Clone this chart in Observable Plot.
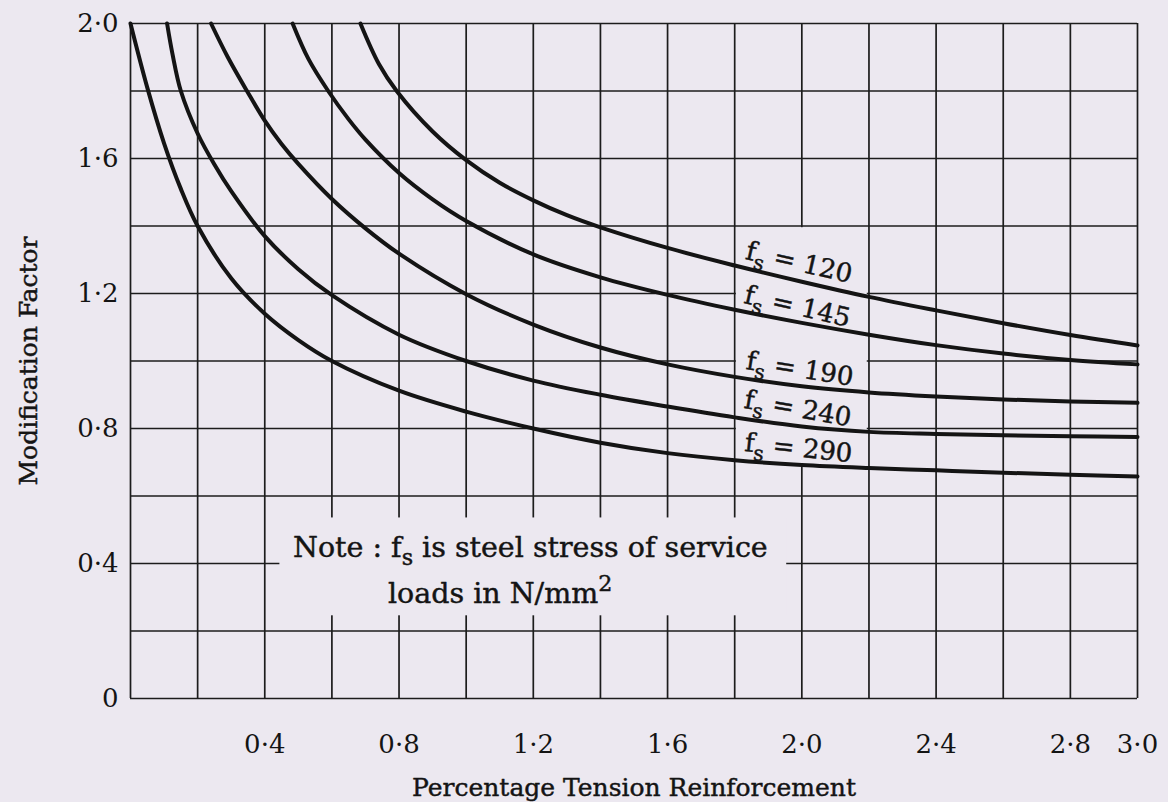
<!DOCTYPE html>
<html>
<head>
<meta charset="utf-8">
<script src="https://cdn.jsdelivr.net/npm/d3@7"></script>
<script src="https://cdn.jsdelivr.net/npm/@observablehq/plot@0.6"></script>
<style>
  html, body { margin: 0; padding: 0; background: #ece8f0; }
  #chart { width: 1168px; height: 802px; }
  svg { display: block; }
</style>
</head>
<body>
<div id="chart"></div>
<script>
// ---------- data ----------
const xTicks = [0.4, 0.8, 1.2, 1.6, 2.0, 2.4, 2.8, 3.0];
const yTicks = [0, 0.4, 0.8, 1.2, 1.6, 2.0];
const xGrid = [0, 0.2, 0.4, 0.6, 0.8, 1.0, 1.2, 1.4, 1.6, 1.8, 2.0, 2.2, 2.4, 2.6, 2.8, 3.0];
const yGrid = [0, 0.2, 0.4, 0.6, 0.8, 1.0, 1.2, 1.4, 1.6, 1.8, 2.0];

const fsValues = [120, 145, 190, 240, 290];

const pt120 = [0.685, 0.74, 0.793, 0.9, 1.0, 1.1, 1.2, 1.3, 1.4, 1.6, 1.8, 2.0, 2.2, 2.4, 2.6, 2.8, 3.0];
const mf120 = [2.0, 1.88, 1.8, 1.68, 1.595, 1.528, 1.476, 1.432, 1.396, 1.335, 1.283, 1.235, 1.19, 1.15, 1.112, 1.077, 1.046];

const pt145 = [0.483, 0.53, 0.589, 0.65, 0.7, 0.8, 0.9, 1.0, 1.2, 1.4, 1.6, 1.8, 2.0, 2.2, 2.4, 2.6, 2.8, 3.0];
const mf145 = [2.0, 1.895, 1.8, 1.716, 1.656, 1.557, 1.479, 1.415, 1.316, 1.248, 1.196, 1.152, 1.113, 1.078, 1.047, 1.022, 1.003, 0.99];

const pt190 = [0.24, 0.29, 0.347, 0.4, 0.45, 0.5, 0.6, 0.7, 0.8, 1.0, 1.2, 1.4, 1.6, 1.8, 2.0, 2.2, 2.4, 2.6, 2.8, 3.0];
const mf190 = [2.0, 1.9, 1.8, 1.712, 1.643, 1.584, 1.48, 1.393, 1.318, 1.198, 1.108, 1.04, 0.99, 0.953, 0.925, 0.907, 0.895, 0.886, 0.88, 0.876];

const pt240 = [0.109, 0.125, 0.15, 0.2, 0.25, 0.3, 0.4, 0.5, 0.6, 0.8, 1.0, 1.2, 1.4, 1.6, 1.8, 2.0, 2.2, 2.4, 2.6, 2.8, 3.0];
const mf240 = [2.0, 1.91, 1.8, 1.674, 1.582, 1.503, 1.37, 1.272, 1.195, 1.078, 1.0, 0.942, 0.9, 0.865, 0.833, 0.806, 0.79, 0.784, 0.78, 0.777, 0.775];

const pt290 = [0, 0.05, 0.1, 0.15, 0.2, 0.3, 0.4, 0.5, 0.6, 0.8, 1.0, 1.2, 1.4, 1.6, 1.8, 2.0, 2.2, 2.4, 2.6, 2.8, 3.0];
const mf290 = [2.0, 1.81, 1.645, 1.51, 1.4, 1.245, 1.14, 1.062, 1.0, 0.912, 0.85, 0.8, 0.758, 0.727, 0.706, 0.692, 0.683, 0.676, 0.669, 0.663, 0.658];

const curveLabelText = ["f_s = 120", "f_s = 145", "f_s = 190", "f_s = 240", "f_s = 290"];
const noteText = ["Note : f_s is steel stress of service", "loads in N/mm^2"];
const xTitle = "Percentage Tension Reinforcement";
const yTitle = "Modification Factor";

// ---------- annotation placement ----------
const labelPos = [
  {x: 1.835, y: 1.327, angle: 13},
  {x: 1.83,  y: 1.197, angle: 13},
  {x: 1.835, y: 1.001, angle: 9},
  {x: 1.83,  y: 0.886, angle: 10},
  {x: 1.83,  y: 0.758, angle: 6}
];
const notePos = [{x: 0.484, y: 0.447}, {x: 0.767, y: 0.311}];
const gapBoxes = [
  {x1: 1.8, x2: 2.2, y1: 0.685, y2: 1.4},
  {x1: 0.44, x2: 1.96, y1: 0.24, y2: 0.54}
];

// ---------- build tables ----------
const ptSeries = [pt120, pt145, pt190, pt240, pt290];
const mfSeries = [mf120, mf145, mf190, mf240, mf290];
const curves = fsValues.flatMap((fs, i) => ptSeries[i].map((p, j) => ({fs, pt: p, mf: mfSeries[i][j]})));
const curveLabels = curveLabelText.map((t, i) => ({text: t, ...labelPos[i]}));
const noteLines = noteText.map((t, i) => ({text: t, ...notePos[i]}));

const BG = "#ece8f0";
const INK = "#141414";
const fmt = d => d === 0 ? "0" : d.toFixed(1).replace(".", "\u00b7");
const heavy = {stroke: INK, strokeWidth: 0.45};

const svg = Plot.plot({
  width: 1168,
  height: 802,
  marginLeft: 130,
  marginRight: 31,
  marginTop: 23,
  marginBottom: 104,
  style: {background: "transparent", fontFamily: "'DejaVu Serif', serif", color: INK},
  x: {domain: [0, 3], label: null},
  y: {domain: [0, 2], label: null},
  marks: [
    Plot.ruleX(xGrid, {stroke: "#1c1c1c", strokeWidth: 1.7}),
    Plot.ruleY(yGrid, {stroke: "#1c1c1c", strokeWidth: 1.7}),
    Plot.rect(gapBoxes, {x1: "x1", x2: "x2", y1: "y1", y2: "y2", fill: BG, inset: 1.7}),
    Plot.line(curves, {x: "pt", y: "mf", z: "fs", curve: "catmull-rom", stroke: INK, strokeWidth: 4}),
    Plot.text(curveLabels, {x: "x", y: "y", text: "text", rotate: "angle", textAnchor: "start", lineAnchor: "middle", fontSize: 26, fill: INK, ...heavy}),
    Plot.text(noteLines, {x: "x", y: "y", text: "text", textAnchor: "start", lineAnchor: "middle", fontSize: 28.5, fill: INK, ...heavy}),
    Plot.axisX(xTicks, {tickSize: 0, tickPadding: 36, tickFormat: fmt, fontSize: 26, label: null, fill: INK, ...heavy}),
    Plot.axisY(yTicks, {tickSize: 0, tickPadding: 12, tickFormat: fmt, fontSize: 26, label: null, fill: INK, ...heavy}),
    Plot.text([xTitle], {frameAnchor: "bottom", dy: 89, text: d => d, fontSize: 25, textAnchor: "middle", lineAnchor: "middle", fill: INK, ...heavy}),
    Plot.text([yTitle], {frameAnchor: "left", dx: -102, rotate: -90, text: d => d, fontSize: 25, textAnchor: "middle", lineAnchor: "middle", fill: INK, ...heavy})
  ]
});

document.getElementById("chart").appendChild(svg);

// subscripts / superscripts as real tspans
const NS = "http://www.w3.org/2000/svg";
svg.querySelectorAll("text, tspan").forEach(el => {
  if (el.children.length) return;
  const s = el.textContent;
  if (!/[_^]/.test(s)) return;
  const size = parseFloat(getComputedStyle(el).fontSize) || 26;
  const parts = s.split(/([_^]\w)/);
  el.textContent = "";
  let pending = 0;
  parts.forEach(p => {
    if (!p) return;
    const ts = document.createElementNS(NS, "tspan");
    if (p[0] === "_" || p[0] === "^") {
      const off = p[0] === "_" ? 0.3 * size : -0.42 * size;
      ts.textContent = p.slice(1);
      ts.setAttribute("dy", off + pending);
      ts.setAttribute("font-size", (0.78 * size) + "px");
      pending = -off;
    } else {
      ts.textContent = p;
      if (pending) ts.setAttribute("dy", pending);
      pending = 0;
    }
    el.appendChild(ts);
  });
});
</script>
</body>
</html>
